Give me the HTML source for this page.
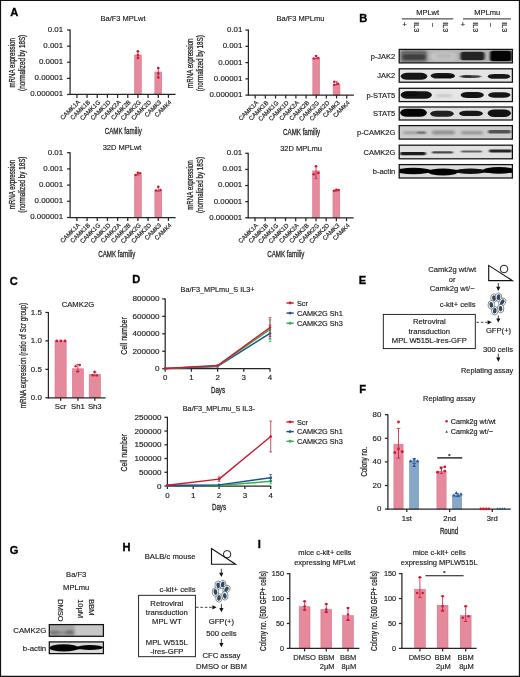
<!DOCTYPE html>
<html lang="en"><head><meta charset="utf-8"><title>Figure</title>
<style>html,body{margin:0;padding:0;background:#fff}svg{display:block}text{font-family:'Liberation Sans', Arial, Helvetica, sans-serif;fill:#222;stroke:#222;stroke-width:0.16px}</style>
</head><body>
<svg width="520" height="677" viewBox="0 0 520 677">
<defs>
<filter id="b1" x="-20%" y="-50%" width="140%" height="200%"><feGaussianBlur stdDeviation="1.1 0.7"/></filter>
<filter id="b2" x="-20%" y="-50%" width="140%" height="200%"><feGaussianBlur stdDeviation="1.8 1.3"/></filter>
<filter id="b0" x="-20%" y="-50%" width="140%" height="200%"><feGaussianBlur stdDeviation="0.7 0.45"/></filter>
</defs>
<rect x="0" y="0" width="520" height="677" fill="#fff"/>
<rect x="134.52" y="55" width="6.8" height="39.48" fill="#e48a9c" stroke="#dc7389" stroke-width="0.6"/>
<line x1="137.92" y1="51.3" x2="137.92" y2="57.9" stroke="#d01832" stroke-width="0.8"/>
<line x1="136.62" y1="51.3" x2="139.22" y2="51.3" stroke="#d01832" stroke-width="0.8"/>
<line x1="136.62" y1="57.9" x2="139.22" y2="57.9" stroke="#d01832" stroke-width="0.8"/>
<circle cx="137.92" cy="51.3" r="1.25" fill="#d01832"/>
<circle cx="137.92" cy="55" r="1.25" fill="#d01832"/>
<circle cx="137.92" cy="57.9" r="1.25" fill="#d01832"/>
<rect x="154.86" y="72" width="6.8" height="22.48" fill="#e48a9c" stroke="#dc7389" stroke-width="0.6"/>
<line x1="158.26" y1="68" x2="158.26" y2="77.5" stroke="#d01832" stroke-width="0.8"/>
<line x1="156.96" y1="68" x2="159.56" y2="68" stroke="#d01832" stroke-width="0.8"/>
<line x1="156.96" y1="77.5" x2="159.56" y2="77.5" stroke="#d01832" stroke-width="0.8"/>
<circle cx="158.26" cy="68" r="1.25" fill="#d01832"/>
<circle cx="158.26" cy="73.4" r="1.25" fill="#d01832"/>
<circle cx="158.26" cy="77.5" r="1.25" fill="#d01832"/>
<line x1="70.1" y1="29.5" x2="70.1" y2="94.98" stroke="#262626" stroke-width="1.25"/>
<line x1="69.6" y1="94.48" x2="175.6" y2="94.48" stroke="#262626" stroke-width="1.25"/>
<line x1="67.1" y1="30" x2="70.1" y2="30" stroke="#262626" stroke-width="1.25"/>
<text transform="translate(63.1 31.94)" font-size="7.9" text-anchor="end">0.01</text>
<line x1="67.1" y1="46.12" x2="70.1" y2="46.12" stroke="#262626" stroke-width="1.25"/>
<text transform="translate(63.1 48.06)" font-size="7.9" text-anchor="end">0.001</text>
<line x1="67.1" y1="62.24" x2="70.1" y2="62.24" stroke="#262626" stroke-width="1.25"/>
<text transform="translate(63.1 64.18)" font-size="7.9" text-anchor="end">0.0001</text>
<line x1="67.1" y1="78.36" x2="70.1" y2="78.36" stroke="#262626" stroke-width="1.25"/>
<text transform="translate(63.1 80.3)" font-size="7.9" text-anchor="end">0.00001</text>
<line x1="67.1" y1="94.48" x2="70.1" y2="94.48" stroke="#262626" stroke-width="1.25"/>
<text transform="translate(63.1 96.42)" font-size="7.9" text-anchor="end">0.000001</text>
<line x1="76.9" y1="94.48" x2="76.9" y2="97.88" stroke="#262626" stroke-width="1.25"/>
<text transform="translate(80.4 102.58) rotate(-45)" font-size="6.1" text-anchor="end">CAMK1A</text>
<line x1="87.07" y1="94.48" x2="87.07" y2="97.88" stroke="#262626" stroke-width="1.25"/>
<text transform="translate(90.57 102.58) rotate(-45)" font-size="6.1" text-anchor="end">CAMK1B</text>
<line x1="97.24" y1="94.48" x2="97.24" y2="97.88" stroke="#262626" stroke-width="1.25"/>
<text transform="translate(100.74 102.58) rotate(-45)" font-size="6.1" text-anchor="end">CAMK1G</text>
<line x1="107.41" y1="94.48" x2="107.41" y2="97.88" stroke="#262626" stroke-width="1.25"/>
<text transform="translate(110.91 102.58) rotate(-45)" font-size="6.1" text-anchor="end">CAMK1D</text>
<line x1="117.58" y1="94.48" x2="117.58" y2="97.88" stroke="#262626" stroke-width="1.25"/>
<text transform="translate(121.08 102.58) rotate(-45)" font-size="6.1" text-anchor="end">CAMK2A</text>
<line x1="127.75" y1="94.48" x2="127.75" y2="97.88" stroke="#262626" stroke-width="1.25"/>
<text transform="translate(131.25 102.58) rotate(-45)" font-size="6.1" text-anchor="end">CAMK2B</text>
<line x1="137.92" y1="94.48" x2="137.92" y2="97.88" stroke="#262626" stroke-width="1.25"/>
<text transform="translate(141.42 102.58) rotate(-45)" font-size="6.1" text-anchor="end">CAMK2G</text>
<line x1="148.09" y1="94.48" x2="148.09" y2="97.88" stroke="#262626" stroke-width="1.25"/>
<text transform="translate(151.59 102.58) rotate(-45)" font-size="6.1" text-anchor="end">CAMK2D</text>
<line x1="158.26" y1="94.48" x2="158.26" y2="97.88" stroke="#262626" stroke-width="1.25"/>
<text transform="translate(161.76 102.58) rotate(-45)" font-size="6.1" text-anchor="end">CAMK3</text>
<line x1="168.43" y1="94.48" x2="168.43" y2="97.88" stroke="#262626" stroke-width="1.25"/>
<text transform="translate(171.93 102.58) rotate(-45)" font-size="6.1" text-anchor="end">CAMK4</text>
<text transform="translate(123 21.2)" font-size="7.5" text-anchor="middle">Ba/F3 MPLwt</text>
<text transform="translate(123.3 134.18) scale(0.72 1)" font-size="8.6" text-anchor="middle" style="stroke-width:0.26px">CAMK familiy</text>
<text transform="translate(14.8 62.84) rotate(-90) scale(0.72 1)" font-size="8.6" text-anchor="middle" style="stroke-width:0.26px">mRNA expression</text>
<text transform="translate(24.8 62.84) rotate(-90) scale(0.73 1)" font-size="8.6" text-anchor="middle" style="stroke-width:0.26px">(normalized by 18S)</text>
<rect x="312.82" y="58.4" width="6.8" height="36.7" fill="#e48a9c" stroke="#dc7389" stroke-width="0.6"/>
<line x1="316.22" y1="55.9" x2="316.22" y2="58.6" stroke="#d01832" stroke-width="0.8"/>
<line x1="314.92" y1="55.9" x2="317.52" y2="55.9" stroke="#d01832" stroke-width="0.8"/>
<line x1="314.92" y1="58.6" x2="317.52" y2="58.6" stroke="#d01832" stroke-width="0.8"/>
<circle cx="316.02" cy="55.9" r="1.25" fill="#d01832"/>
<circle cx="313.72" cy="58.5" r="1.25" fill="#d01832"/>
<circle cx="318.32" cy="57.9" r="1.25" fill="#d01832"/>
<rect x="333.16" y="84.3" width="6.8" height="10.8" fill="#e48a9c" stroke="#dc7389" stroke-width="0.6"/>
<line x1="336.56" y1="81.8" x2="336.56" y2="84.8" stroke="#d01832" stroke-width="0.8"/>
<line x1="335.26" y1="81.8" x2="337.86" y2="81.8" stroke="#d01832" stroke-width="0.8"/>
<line x1="335.26" y1="84.8" x2="337.86" y2="84.8" stroke="#d01832" stroke-width="0.8"/>
<circle cx="334.26" cy="81.8" r="1.25" fill="#d01832"/>
<circle cx="338.06" cy="83.8" r="1.25" fill="#d01832"/>
<circle cx="334.26" cy="84.8" r="1.25" fill="#d01832"/>
<line x1="248.4" y1="29.6" x2="248.4" y2="95.6" stroke="#262626" stroke-width="1.25"/>
<line x1="247.9" y1="95.1" x2="353.9" y2="95.1" stroke="#262626" stroke-width="1.25"/>
<line x1="245.4" y1="30.1" x2="248.4" y2="30.1" stroke="#262626" stroke-width="1.25"/>
<text transform="translate(242.4 32.04)" font-size="7.9" text-anchor="end">0.01</text>
<line x1="245.4" y1="46.35" x2="248.4" y2="46.35" stroke="#262626" stroke-width="1.25"/>
<text transform="translate(242.4 48.29)" font-size="7.9" text-anchor="end">0.001</text>
<line x1="245.4" y1="62.6" x2="248.4" y2="62.6" stroke="#262626" stroke-width="1.25"/>
<text transform="translate(242.4 64.54)" font-size="7.9" text-anchor="end">0.0001</text>
<line x1="245.4" y1="78.85" x2="248.4" y2="78.85" stroke="#262626" stroke-width="1.25"/>
<text transform="translate(242.4 80.79)" font-size="7.9" text-anchor="end">0.00001</text>
<line x1="245.4" y1="95.1" x2="248.4" y2="95.1" stroke="#262626" stroke-width="1.25"/>
<text transform="translate(242.4 97.04)" font-size="7.9" text-anchor="end">0.000001</text>
<line x1="255.2" y1="95.1" x2="255.2" y2="98.5" stroke="#262626" stroke-width="1.25"/>
<text transform="translate(258.7 103.2) rotate(-45)" font-size="6.1" text-anchor="end">CAMK1A</text>
<line x1="265.37" y1="95.1" x2="265.37" y2="98.5" stroke="#262626" stroke-width="1.25"/>
<text transform="translate(268.87 103.2) rotate(-45)" font-size="6.1" text-anchor="end">CAMK1B</text>
<line x1="275.54" y1="95.1" x2="275.54" y2="98.5" stroke="#262626" stroke-width="1.25"/>
<text transform="translate(279.04 103.2) rotate(-45)" font-size="6.1" text-anchor="end">CAMK1G</text>
<line x1="285.71" y1="95.1" x2="285.71" y2="98.5" stroke="#262626" stroke-width="1.25"/>
<text transform="translate(289.21 103.2) rotate(-45)" font-size="6.1" text-anchor="end">CAMK1D</text>
<line x1="295.88" y1="95.1" x2="295.88" y2="98.5" stroke="#262626" stroke-width="1.25"/>
<text transform="translate(299.38 103.2) rotate(-45)" font-size="6.1" text-anchor="end">CAMK2A</text>
<line x1="306.05" y1="95.1" x2="306.05" y2="98.5" stroke="#262626" stroke-width="1.25"/>
<text transform="translate(309.55 103.2) rotate(-45)" font-size="6.1" text-anchor="end">CAMK2B</text>
<line x1="316.22" y1="95.1" x2="316.22" y2="98.5" stroke="#262626" stroke-width="1.25"/>
<text transform="translate(319.72 103.2) rotate(-45)" font-size="6.1" text-anchor="end">CAMK2G</text>
<line x1="326.39" y1="95.1" x2="326.39" y2="98.5" stroke="#262626" stroke-width="1.25"/>
<text transform="translate(329.89 103.2) rotate(-45)" font-size="6.1" text-anchor="end">CAMK2D</text>
<line x1="336.56" y1="95.1" x2="336.56" y2="98.5" stroke="#262626" stroke-width="1.25"/>
<text transform="translate(340.06 103.2) rotate(-45)" font-size="6.1" text-anchor="end">CAMK3</text>
<line x1="346.73" y1="95.1" x2="346.73" y2="98.5" stroke="#262626" stroke-width="1.25"/>
<text transform="translate(350.23 103.2) rotate(-45)" font-size="6.1" text-anchor="end">CAMK4</text>
<text transform="translate(300.5 21.3)" font-size="7.5" text-anchor="middle">Ba/F3 MPLmu</text>
<text transform="translate(301.6 134.8) scale(0.72 1)" font-size="8.6" text-anchor="middle" style="stroke-width:0.26px">CAMK familiy</text>
<text transform="translate(193.1 63.2) rotate(-90) scale(0.72 1)" font-size="8.6" text-anchor="middle" style="stroke-width:0.26px">mRNA expression</text>
<text transform="translate(203.1 63.2) rotate(-90) scale(0.73 1)" font-size="8.6" text-anchor="middle" style="stroke-width:0.26px">(normalized by 18S)</text>
<rect x="134.52" y="174.7" width="6.8" height="42.8" fill="#e48a9c" stroke="#dc7389" stroke-width="0.6"/>
<line x1="137.92" y1="172.8" x2="137.92" y2="175" stroke="#d01832" stroke-width="0.8"/>
<line x1="136.62" y1="172.8" x2="139.22" y2="172.8" stroke="#d01832" stroke-width="0.8"/>
<line x1="136.62" y1="175" x2="139.22" y2="175" stroke="#d01832" stroke-width="0.8"/>
<circle cx="135.62" cy="175" r="1.25" fill="#d01832"/>
<circle cx="137.92" cy="172.8" r="1.25" fill="#d01832"/>
<circle cx="140.22" cy="173.3" r="1.25" fill="#d01832"/>
<rect x="154.86" y="190.5" width="6.8" height="27" fill="#e48a9c" stroke="#dc7389" stroke-width="0.6"/>
<line x1="158.26" y1="186.7" x2="158.26" y2="191.2" stroke="#d01832" stroke-width="0.8"/>
<line x1="156.96" y1="186.7" x2="159.56" y2="186.7" stroke="#d01832" stroke-width="0.8"/>
<line x1="156.96" y1="191.2" x2="159.56" y2="191.2" stroke="#d01832" stroke-width="0.8"/>
<circle cx="158.26" cy="186.7" r="1.25" fill="#d01832"/>
<circle cx="155.96" cy="190.4" r="1.25" fill="#d01832"/>
<circle cx="160.46" cy="190.1" r="1.25" fill="#d01832"/>
<line x1="70.1" y1="152.2" x2="70.1" y2="218" stroke="#262626" stroke-width="1.25"/>
<line x1="69.6" y1="217.5" x2="175.6" y2="217.5" stroke="#262626" stroke-width="1.25"/>
<line x1="67.1" y1="152.7" x2="70.1" y2="152.7" stroke="#262626" stroke-width="1.25"/>
<text transform="translate(63.1 154.64)" font-size="7.9" text-anchor="end">0.01</text>
<line x1="67.1" y1="168.9" x2="70.1" y2="168.9" stroke="#262626" stroke-width="1.25"/>
<text transform="translate(63.1 170.84)" font-size="7.9" text-anchor="end">0.001</text>
<line x1="67.1" y1="185.1" x2="70.1" y2="185.1" stroke="#262626" stroke-width="1.25"/>
<text transform="translate(63.1 187.04)" font-size="7.9" text-anchor="end">0.0001</text>
<line x1="67.1" y1="201.3" x2="70.1" y2="201.3" stroke="#262626" stroke-width="1.25"/>
<text transform="translate(63.1 203.24)" font-size="7.9" text-anchor="end">0.00001</text>
<line x1="67.1" y1="217.5" x2="70.1" y2="217.5" stroke="#262626" stroke-width="1.25"/>
<text transform="translate(63.1 219.44)" font-size="7.9" text-anchor="end">0.000001</text>
<line x1="76.9" y1="217.5" x2="76.9" y2="220.9" stroke="#262626" stroke-width="1.25"/>
<text transform="translate(80.4 225.6) rotate(-45)" font-size="6.1" text-anchor="end">CAMK1A</text>
<line x1="87.07" y1="217.5" x2="87.07" y2="220.9" stroke="#262626" stroke-width="1.25"/>
<text transform="translate(90.57 225.6) rotate(-45)" font-size="6.1" text-anchor="end">CAMK1B</text>
<line x1="97.24" y1="217.5" x2="97.24" y2="220.9" stroke="#262626" stroke-width="1.25"/>
<text transform="translate(100.74 225.6) rotate(-45)" font-size="6.1" text-anchor="end">CAMK1G</text>
<line x1="107.41" y1="217.5" x2="107.41" y2="220.9" stroke="#262626" stroke-width="1.25"/>
<text transform="translate(110.91 225.6) rotate(-45)" font-size="6.1" text-anchor="end">CAMK1D</text>
<line x1="117.58" y1="217.5" x2="117.58" y2="220.9" stroke="#262626" stroke-width="1.25"/>
<text transform="translate(121.08 225.6) rotate(-45)" font-size="6.1" text-anchor="end">CAMK2A</text>
<line x1="127.75" y1="217.5" x2="127.75" y2="220.9" stroke="#262626" stroke-width="1.25"/>
<text transform="translate(131.25 225.6) rotate(-45)" font-size="6.1" text-anchor="end">CAMK2B</text>
<line x1="137.92" y1="217.5" x2="137.92" y2="220.9" stroke="#262626" stroke-width="1.25"/>
<text transform="translate(141.42 225.6) rotate(-45)" font-size="6.1" text-anchor="end">CAMK2G</text>
<line x1="148.09" y1="217.5" x2="148.09" y2="220.9" stroke="#262626" stroke-width="1.25"/>
<text transform="translate(151.59 225.6) rotate(-45)" font-size="6.1" text-anchor="end">CAMK2D</text>
<line x1="158.26" y1="217.5" x2="158.26" y2="220.9" stroke="#262626" stroke-width="1.25"/>
<text transform="translate(161.76 225.6) rotate(-45)" font-size="6.1" text-anchor="end">CAMK3</text>
<line x1="168.43" y1="217.5" x2="168.43" y2="220.9" stroke="#262626" stroke-width="1.25"/>
<text transform="translate(171.93 225.6) rotate(-45)" font-size="6.1" text-anchor="end">CAMK4</text>
<text transform="translate(122 149.9)" font-size="7.5" text-anchor="middle">32D MPLwt</text>
<text transform="translate(116.8 257.2) scale(0.72 1)" font-size="8.6" text-anchor="middle" style="stroke-width:0.26px">CAMK familiy</text>
<text transform="translate(14.8 184.6) rotate(-90) scale(0.72 1)" font-size="8.6" text-anchor="middle" style="stroke-width:0.26px">mRNA expression</text>
<text transform="translate(24.8 184.6) rotate(-90) scale(0.73 1)" font-size="8.6" text-anchor="middle" style="stroke-width:0.26px">(normalized by 18S)</text>
<rect x="312.62" y="170.9" width="6.8" height="46.88" fill="#e48a9c" stroke="#dc7389" stroke-width="0.6"/>
<line x1="316.02" y1="166.2" x2="316.02" y2="178.3" stroke="#d01832" stroke-width="0.8"/>
<line x1="314.72" y1="166.2" x2="317.32" y2="166.2" stroke="#d01832" stroke-width="0.8"/>
<line x1="314.72" y1="178.3" x2="317.32" y2="178.3" stroke="#d01832" stroke-width="0.8"/>
<circle cx="316.02" cy="166.2" r="1.25" fill="#d01832"/>
<circle cx="313.62" cy="174.2" r="1.25" fill="#d01832"/>
<circle cx="318.32" cy="173.1" r="1.25" fill="#d01832"/>
<rect x="332.96" y="190.5" width="6.8" height="27.28" fill="#e48a9c" stroke="#dc7389" stroke-width="0.6"/>
<line x1="336.36" y1="189.6" x2="336.36" y2="191" stroke="#d01832" stroke-width="0.8"/>
<line x1="335.06" y1="189.6" x2="337.66" y2="189.6" stroke="#d01832" stroke-width="0.8"/>
<line x1="335.06" y1="191" x2="337.66" y2="191" stroke="#d01832" stroke-width="0.8"/>
<circle cx="334.06" cy="190.7" r="1.25" fill="#d01832"/>
<circle cx="336.36" cy="189.8" r="1.25" fill="#d01832"/>
<circle cx="338.66" cy="190.1" r="1.25" fill="#d01832"/>
<line x1="248.2" y1="152.8" x2="248.2" y2="218.28" stroke="#262626" stroke-width="1.25"/>
<line x1="247.7" y1="217.78" x2="353.7" y2="217.78" stroke="#262626" stroke-width="1.25"/>
<line x1="245.2" y1="153.3" x2="248.2" y2="153.3" stroke="#262626" stroke-width="1.25"/>
<text transform="translate(242.2 155.24)" font-size="7.9" text-anchor="end">0.01</text>
<line x1="245.2" y1="169.42" x2="248.2" y2="169.42" stroke="#262626" stroke-width="1.25"/>
<text transform="translate(242.2 171.36)" font-size="7.9" text-anchor="end">0.001</text>
<line x1="245.2" y1="185.54" x2="248.2" y2="185.54" stroke="#262626" stroke-width="1.25"/>
<text transform="translate(242.2 187.48)" font-size="7.9" text-anchor="end">0.0001</text>
<line x1="245.2" y1="201.66" x2="248.2" y2="201.66" stroke="#262626" stroke-width="1.25"/>
<text transform="translate(242.2 203.6)" font-size="7.9" text-anchor="end">0.00001</text>
<line x1="245.2" y1="217.78" x2="248.2" y2="217.78" stroke="#262626" stroke-width="1.25"/>
<text transform="translate(242.2 219.72)" font-size="7.9" text-anchor="end">0.000001</text>
<line x1="255" y1="217.78" x2="255" y2="221.18" stroke="#262626" stroke-width="1.25"/>
<text transform="translate(258.5 225.88) rotate(-45)" font-size="6.1" text-anchor="end">CAMK1A</text>
<line x1="265.17" y1="217.78" x2="265.17" y2="221.18" stroke="#262626" stroke-width="1.25"/>
<text transform="translate(268.67 225.88) rotate(-45)" font-size="6.1" text-anchor="end">CAMK1B</text>
<line x1="275.34" y1="217.78" x2="275.34" y2="221.18" stroke="#262626" stroke-width="1.25"/>
<text transform="translate(278.84 225.88) rotate(-45)" font-size="6.1" text-anchor="end">CAMK1G</text>
<line x1="285.51" y1="217.78" x2="285.51" y2="221.18" stroke="#262626" stroke-width="1.25"/>
<text transform="translate(289.01 225.88) rotate(-45)" font-size="6.1" text-anchor="end">CAMK1D</text>
<line x1="295.68" y1="217.78" x2="295.68" y2="221.18" stroke="#262626" stroke-width="1.25"/>
<text transform="translate(299.18 225.88) rotate(-45)" font-size="6.1" text-anchor="end">CAMK2A</text>
<line x1="305.85" y1="217.78" x2="305.85" y2="221.18" stroke="#262626" stroke-width="1.25"/>
<text transform="translate(309.35 225.88) rotate(-45)" font-size="6.1" text-anchor="end">CAMK2B</text>
<line x1="316.02" y1="217.78" x2="316.02" y2="221.18" stroke="#262626" stroke-width="1.25"/>
<text transform="translate(319.52 225.88) rotate(-45)" font-size="6.1" text-anchor="end">CAMK2G</text>
<line x1="326.19" y1="217.78" x2="326.19" y2="221.18" stroke="#262626" stroke-width="1.25"/>
<text transform="translate(329.69 225.88) rotate(-45)" font-size="6.1" text-anchor="end">CAMK2D</text>
<line x1="336.36" y1="217.78" x2="336.36" y2="221.18" stroke="#262626" stroke-width="1.25"/>
<text transform="translate(339.86 225.88) rotate(-45)" font-size="6.1" text-anchor="end">CAMK3</text>
<line x1="346.53" y1="217.78" x2="346.53" y2="221.18" stroke="#262626" stroke-width="1.25"/>
<text transform="translate(350.03 225.88) rotate(-45)" font-size="6.1" text-anchor="end">CAMK4</text>
<text transform="translate(301 150.5)" font-size="7.5" text-anchor="middle">32D MPLmu</text>
<text transform="translate(285.8 257.48) scale(0.72 1)" font-size="8.6" text-anchor="middle" style="stroke-width:0.26px">CAMK familiy</text>
<text transform="translate(192.9 185.04) rotate(-90) scale(0.72 1)" font-size="8.6" text-anchor="middle" style="stroke-width:0.26px">mRNA expression</text>
<text transform="translate(202.9 185.04) rotate(-90) scale(0.73 1)" font-size="8.6" text-anchor="middle" style="stroke-width:0.26px">(normalized by 18S)</text>
<text transform="translate(10.3 16.2)" font-size="11.1" text-anchor="start" font-weight="bold" fill="#000" style="fill:#000;stroke:#000;stroke-width:0.32px">A</text>
<text transform="translate(359.2 22)" font-size="11.1" text-anchor="start" font-weight="bold" fill="#000" style="fill:#000;stroke:#000;stroke-width:0.32px">B</text>
<text transform="translate(427.6 15.2)" font-size="7.5" text-anchor="middle">MPLwt</text>
<text transform="translate(487.2 15.2)" font-size="7.5" text-anchor="middle">MPLmu</text>
<line x1="401.8" y1="18.9" x2="453.2" y2="18.9" stroke="#111" stroke-width="0.9"/>
<line x1="463" y1="18.9" x2="511" y2="18.9" stroke="#111" stroke-width="0.9"/>
<text transform="translate(404.6 27.28)" font-size="8" text-anchor="middle">+</text>
<text transform="translate(414.4 22.2) rotate(90)" font-size="7.2" text-anchor="start">IL3</text>
<text transform="translate(431 23) rotate(90)" font-size="6.6" text-anchor="start">–</text>
<text transform="translate(443.4 22.2) rotate(90)" font-size="7.2" text-anchor="start">IL3</text>
<text transform="translate(462.8 27.28)" font-size="8" text-anchor="middle">+</text>
<text transform="translate(472.6 22.2) rotate(90)" font-size="7.2" text-anchor="start">IL3</text>
<text transform="translate(489.2 23) rotate(90)" font-size="6.6" text-anchor="start">–</text>
<text transform="translate(501.6 22.2) rotate(90)" font-size="7.2" text-anchor="start">IL3</text>
<clipPath id="c1"><rect x="399.2" y="49.4" width="113.2" height="13.5"/></clipPath>
<rect x="399.2" y="49.4" width="113.2" height="13.5" fill="#c4c4c4"/>
<g clip-path="url(#c1)">
<rect x="399" y="50.3" width="114" height="12" rx="2.5" fill="#b0b0b0" opacity="0.8" filter="url(#b2)"/>
<rect x="400.5" y="50.45" width="26.5" height="11.5" rx="2.5" fill="#555" opacity="0.85" filter="url(#b2)"/>
<rect x="403" y="54.5" width="22" height="5" rx="2.5" fill="#2a2a2a" opacity="0.6" filter="url(#b1)"/>
<rect x="431" y="52.5" width="25" height="8" rx="2.5" fill="#cfcfcf" opacity="0.7" filter="url(#b2)"/>
<rect x="436" y="54.5" width="16" height="3" rx="1.5" fill="#999" opacity="0.4" filter="url(#b2)"/>
<rect x="460.5" y="51.7" width="24" height="8.6" rx="2.5" fill="#1c1c1c" opacity="0.95" filter="url(#b1)"/>
<rect x="490" y="50.8" width="21.8" height="10.4" rx="2.5" fill="#060606" opacity="0.98" filter="url(#b1)"/>
</g>
<rect x="399.2" y="49.4" width="113.2" height="13.5" fill="none" stroke="#111" stroke-width="1.25"/>
<text transform="translate(395.3 59.05)" font-size="7.5" text-anchor="end">p-JAK2</text>
<clipPath id="c2"><rect x="399.2" y="68.8" width="113.2" height="13.4"/></clipPath>
<rect x="399.2" y="68.8" width="113.2" height="13.4" fill="#e4e4e4"/>
<g clip-path="url(#c2)">
<path d="M400.5 76.2Q401.7 72.7 407.5 72.7L420.5 72.7Q426.3 72.7 427.5 76.2Q426.3 79.7 420.5 79.7L407.5 79.7Q401.7 79.7 400.5 76.2Z" fill="#0a0a0a" opacity="0.97" filter="url(#b0)"/>
<path d="M430.5 75.8Q431.7 73 437.5 73L448 73Q453.8 73 455 75.8Q453.8 78.6 448 78.6L437.5 78.6Q431.7 78.6 430.5 75.8Z" fill="#111" opacity="0.95" filter="url(#b0)"/>
<path d="M436 76.6Q437.2 75.1 441.7 75.1L449.3 75.1Q453.8 75.1 455 76.6Q453.8 78.1 449.3 78.1L441.7 78.1Q437.2 78.1 436 76.6Z" fill="#111" opacity="0.8" filter="url(#b0)"/>
<path d="M459.5 76.6Q460.7 75.2 466.1 75.2L474.9 75.2Q480.3 75.2 481.5 76.6Q480.3 78 474.9 78L466.1 78Q460.7 78 459.5 76.6Z" fill="#2a2a2a" opacity="0.85" filter="url(#b1)"/>
<path d="M462 76.2Q463.2 74.9 465 74.9L469 74.9Q470.8 74.9 472 76.2Q470.8 77.5 469 77.5L465 77.5Q463.2 77.5 462 76.2Z" fill="#222" opacity="0.6" filter="url(#b0)"/>
<path d="M487.5 76.4Q488.7 74.1 494.4 74.1L503.6 74.1Q509.3 74.1 510.5 76.4Q509.3 78.7 503.6 78.7L494.4 78.7Q488.7 78.7 487.5 76.4Z" fill="#111" opacity="0.95" filter="url(#b0)"/>
</g>
<rect x="399.2" y="68.8" width="113.2" height="13.4" fill="none" stroke="#111" stroke-width="1.25"/>
<text transform="translate(395.3 78.4)" font-size="7.5" text-anchor="end">JAK2</text>
<clipPath id="c3"><rect x="399.2" y="88.3" width="113.2" height="13.3"/></clipPath>
<rect x="399.2" y="88.3" width="113.2" height="13.3" fill="#e6e6e6"/>
<g clip-path="url(#c3)">
<path d="M400.5 95Q401.7 91.3 407.5 91.3L425 91.3Q430.8 91.3 432 95Q430.8 98.7 425 98.7L407.5 98.7Q401.7 98.7 400.5 95Z" fill="#0a0a0a" opacity="0.97" filter="url(#b0)"/>
<path d="M402 93.6Q403.2 91.6 407.4 91.6L414.6 91.6Q418.8 91.6 420 93.6Q418.8 95.6 414.6 95.6L407.4 95.6Q403.2 95.6 402 93.6Z" fill="#0a0a0a" opacity="0.9" filter="url(#b0)"/>
<rect x="436" y="94.5" width="16" height="2.6" rx="1.3" fill="#999" opacity="0.45" filter="url(#b2)"/>
<path d="M460.5 95Q461.7 92 467.5 92L477 92Q482.8 92 484 95Q482.8 98 477 98L467.5 98Q461.7 98 460.5 95Z" fill="#0d0d0d" opacity="0.96" filter="url(#b0)"/>
<path d="M488 95Q489.2 92.3 494.75 92.3L503.75 92.3Q509.3 92.3 510.5 95Q509.3 97.7 503.75 97.7L494.75 97.7Q489.2 97.7 488 95Z" fill="#0d0d0d" opacity="0.96" filter="url(#b0)"/>
</g>
<rect x="399.2" y="88.3" width="113.2" height="13.3" fill="none" stroke="#111" stroke-width="1.25"/>
<text transform="translate(395.3 97.85)" font-size="7.5" text-anchor="end">p-STAT5</text>
<clipPath id="c4"><rect x="399.2" y="107" width="113.2" height="13"/></clipPath>
<rect x="399.2" y="107" width="113.2" height="13" fill="#dedede"/>
<g clip-path="url(#c4)">
<path d="M400 112.8Q401.2 108.8 407 108.8L420 108.8Q425.8 108.8 427 112.8Q425.8 116.8 420 116.8L407 116.8Q401.2 116.8 400 112.8Z" fill="#050505" opacity="0.98" filter="url(#b0)"/>
<path d="M430 113.8Q431.2 110.8 437 110.8L447 110.8Q452.8 110.8 454 113.8Q452.8 116.8 447 116.8L437 116.8Q431.2 116.8 430 113.8Z" fill="#141414" opacity="0.95" filter="url(#b0)"/>
<path d="M459 113.4Q460.2 110.7 466 110.7L476 110.7Q481.8 110.7 483 113.4Q481.8 116.1 476 116.1L466 116.1Q460.2 116.1 459 113.4Z" fill="#111" opacity="0.95" filter="url(#b0)"/>
<path d="M487.5 113.2Q488.7 109.5 494.5 109.5L504 109.5Q509.8 109.5 511 113.2Q509.8 116.9 504 116.9L494.5 116.9Q488.7 116.9 487.5 113.2Z" fill="#080808" opacity="0.97" filter="url(#b0)"/>
</g>
<rect x="399.2" y="107" width="113.2" height="13" fill="none" stroke="#111" stroke-width="1.25"/>
<text transform="translate(395.3 116.4)" font-size="7.5" text-anchor="end">STAT5</text>
<clipPath id="c5"><rect x="399.2" y="125.6" width="113.2" height="13.5"/></clipPath>
<rect x="399.2" y="125.6" width="113.2" height="13.5" fill="#d3d3d3"/>
<g clip-path="url(#c5)">
<rect x="399" y="126" width="114" height="12" rx="2.5" fill="#cacaca" opacity="0.7" filter="url(#b2)"/>
<rect x="403" y="131.5" width="23" height="2.6" rx="1.3" fill="#666" opacity="0.5" filter="url(#b2)"/>
<rect x="417" y="131.4" width="9" height="2.4" rx="1.2" fill="#444" opacity="0.5" filter="url(#b1)"/>
<rect x="432" y="130.6" width="23" height="4" rx="2" fill="#555" opacity="0.5" filter="url(#b2)"/>
<rect x="461" y="131.3" width="22" height="3" rx="1.5" fill="#555" opacity="0.5" filter="url(#b2)"/>
<rect x="488" y="130.1" width="23" height="3.4" rx="1.7" fill="#2a2a2a" opacity="0.75" filter="url(#b1)"/>
</g>
<rect x="399.2" y="125.6" width="113.2" height="13.5" fill="none" stroke="#111" stroke-width="1.25"/>
<text transform="translate(395.3 135.25)" font-size="7.5" text-anchor="end">p-CAMK2G</text>
<clipPath id="c6"><rect x="399.2" y="145.2" width="113.2" height="13.6"/></clipPath>
<rect x="399.2" y="145.2" width="113.2" height="13.6" fill="#e0e0e0"/>
<g clip-path="url(#c6)">
<rect x="400" y="151.9" width="26" height="3.4" rx="1.7" fill="#111" opacity="0.92" filter="url(#b1)"/>
<rect x="432" y="151.2" width="21" height="2.4" rx="1.2" fill="#333" opacity="0.85" filter="url(#b1)"/>
<rect x="461" y="150.6" width="21" height="2" rx="1" fill="#444" opacity="0.8" filter="url(#b1)"/>
<rect x="489" y="149.6" width="23" height="2.8" rx="1.4" fill="#151515" opacity="0.92" filter="url(#b1)"/>
</g>
<rect x="399.2" y="145.2" width="113.2" height="13.6" fill="none" stroke="#111" stroke-width="1.25"/>
<text transform="translate(395.3 154.9)" font-size="7.5" text-anchor="end">CAMK2G</text>
<clipPath id="c7"><rect x="399.2" y="164.6" width="113.2" height="13.4"/></clipPath>
<rect x="399.2" y="164.6" width="113.2" height="13.4" fill="#dcdcdc"/>
<g clip-path="url(#c7)">
<rect x="399" y="169.7" width="114" height="3" rx="1.5" fill="#111" opacity="0.9" filter="url(#b0)"/>
<ellipse cx="413.5" cy="171" rx="17.5" ry="3.3" fill="#060606" opacity="0.98" filter="url(#b0)"/>
<ellipse cx="443" cy="172" rx="15" ry="3.4" fill="#060606" opacity="0.98" filter="url(#b0)"/>
<ellipse cx="470.5" cy="171.2" rx="14.5" ry="2.8" fill="#090909" opacity="0.98" filter="url(#b0)"/>
<ellipse cx="499" cy="170.4" rx="16" ry="3.4" fill="#060606" opacity="0.98" filter="url(#b0)"/>
</g>
<rect x="399.2" y="164.6" width="113.2" height="13.4" fill="none" stroke="#111" stroke-width="1.25"/>
<text transform="translate(395.3 174.2)" font-size="7.5" text-anchor="end">b-actin</text>
<text transform="translate(9.8 285)" font-size="11.1" text-anchor="start" font-weight="bold" fill="#000" style="fill:#000;stroke:#000;stroke-width:0.32px">C</text>
<rect x="55" y="340.9" width="11.2" height="56.9" fill="#e48a9c" stroke="#dc7389" stroke-width="0.6"/>
<rect x="72.3" y="368.78" width="11.2" height="29.02" fill="#e48a9c" stroke="#dc7389" stroke-width="0.6"/>
<rect x="89.2" y="374.47" width="11.2" height="23.33" fill="#e48a9c" stroke="#dc7389" stroke-width="0.6"/>
<circle cx="56.8" cy="340.9" r="1.35" fill="#d01832"/>
<circle cx="60.9" cy="340.9" r="1.35" fill="#d01832"/>
<circle cx="65" cy="340.9" r="1.35" fill="#d01832"/>
<line x1="77.9" y1="364.6" x2="77.9" y2="371.6" stroke="#d01832" stroke-width="0.8"/>
<line x1="76.3" y1="364.6" x2="79.5" y2="364.6" stroke="#d01832" stroke-width="0.8"/>
<line x1="76.3" y1="371.6" x2="79.5" y2="371.6" stroke="#d01832" stroke-width="0.8"/>
<circle cx="75.6" cy="366.2" r="1.2" fill="#d01832"/>
<circle cx="79.8" cy="365" r="1.2" fill="#d01832"/>
<circle cx="77.6" cy="371.4" r="1.2" fill="#d01832"/>
<line x1="94.8" y1="372.2" x2="94.8" y2="375.8" stroke="#d01832" stroke-width="0.8"/>
<line x1="93.2" y1="372.2" x2="96.4" y2="372.2" stroke="#d01832" stroke-width="0.8"/>
<line x1="93.2" y1="375.8" x2="96.4" y2="375.8" stroke="#d01832" stroke-width="0.8"/>
<circle cx="94.6" cy="371.8" r="1.2" fill="#d01832"/>
<circle cx="92.6" cy="375.2" r="1.2" fill="#d01832"/>
<circle cx="97" cy="375.4" r="1.2" fill="#d01832"/>
<line x1="48.4" y1="311.95" x2="48.4" y2="398.3" stroke="#262626" stroke-width="1.25"/>
<line x1="47.9" y1="397.8" x2="105.6" y2="397.8" stroke="#262626" stroke-width="1.25"/>
<line x1="45.4" y1="397.8" x2="48.4" y2="397.8" stroke="#262626" stroke-width="1.25"/>
<text transform="translate(41.8 400.14)" font-size="7.9" text-anchor="end">0.0</text>
<line x1="45.4" y1="369.35" x2="48.4" y2="369.35" stroke="#262626" stroke-width="1.25"/>
<text transform="translate(41.8 371.69)" font-size="7.9" text-anchor="end">0.5</text>
<line x1="45.4" y1="340.9" x2="48.4" y2="340.9" stroke="#262626" stroke-width="1.25"/>
<text transform="translate(41.8 343.24)" font-size="7.9" text-anchor="end">1.0</text>
<line x1="45.4" y1="312.45" x2="48.4" y2="312.45" stroke="#262626" stroke-width="1.25"/>
<text transform="translate(41.8 314.79)" font-size="7.9" text-anchor="end">1.5</text>
<line x1="60.6" y1="397.8" x2="60.6" y2="400.8" stroke="#262626" stroke-width="1.25"/>
<text transform="translate(60.6 409.17)" font-size="7.7" text-anchor="middle">Scr</text>
<line x1="77.9" y1="397.8" x2="77.9" y2="400.8" stroke="#262626" stroke-width="1.25"/>
<text transform="translate(77.9 409.17)" font-size="7.7" text-anchor="middle">Sh1</text>
<line x1="94.8" y1="397.8" x2="94.8" y2="400.8" stroke="#262626" stroke-width="1.25"/>
<text transform="translate(94.8 409.17)" font-size="7.7" text-anchor="middle">Sh3</text>
<text transform="translate(77.9 306.57)" font-size="7.7" text-anchor="middle">CAMK2G</text>
<text transform="translate(26.4 355.6) rotate(-90) scale(0.74 1)" font-size="8.6" text-anchor="middle" style="stroke-width:0.26px">mRNA expression (ratio of Scr group)</text>
<text transform="translate(132.3 283.4)" font-size="11.1" text-anchor="start" font-weight="bold" fill="#000" style="fill:#000;stroke:#000;stroke-width:0.32px">D</text>
<line x1="165.2" y1="298.4" x2="165.2" y2="369.2" stroke="#262626" stroke-width="1.25"/>
<line x1="164.7" y1="368.7" x2="270.4" y2="368.7" stroke="#262626" stroke-width="1.25"/>
<line x1="162.2" y1="368.7" x2="165.2" y2="368.7" stroke="#262626" stroke-width="1.25"/>
<text transform="translate(159.4 371.22)" font-size="8.1" text-anchor="end">0</text>
<line x1="162.2" y1="351.25" x2="165.2" y2="351.25" stroke="#262626" stroke-width="1.25"/>
<text transform="translate(159.4 353.77)" font-size="8.1" text-anchor="end">200000</text>
<line x1="162.2" y1="333.8" x2="165.2" y2="333.8" stroke="#262626" stroke-width="1.25"/>
<text transform="translate(159.4 336.32)" font-size="8.1" text-anchor="end">400000</text>
<line x1="162.2" y1="316.35" x2="165.2" y2="316.35" stroke="#262626" stroke-width="1.25"/>
<text transform="translate(159.4 318.87)" font-size="8.1" text-anchor="end">600000</text>
<line x1="162.2" y1="298.9" x2="165.2" y2="298.9" stroke="#262626" stroke-width="1.25"/>
<text transform="translate(159.4 301.42)" font-size="8.1" text-anchor="end">800000</text>
<line x1="165.2" y1="368.7" x2="165.2" y2="371.7" stroke="#262626" stroke-width="1.25"/>
<text transform="translate(165.2 380.34)" font-size="7.9" text-anchor="middle">0</text>
<line x1="191.4" y1="368.7" x2="191.4" y2="371.7" stroke="#262626" stroke-width="1.25"/>
<text transform="translate(191.4 380.34)" font-size="7.9" text-anchor="middle">1</text>
<line x1="217.6" y1="368.7" x2="217.6" y2="371.7" stroke="#262626" stroke-width="1.25"/>
<text transform="translate(217.6 380.34)" font-size="7.9" text-anchor="middle">2</text>
<line x1="243.8" y1="368.7" x2="243.8" y2="371.7" stroke="#262626" stroke-width="1.25"/>
<text transform="translate(243.8 380.34)" font-size="7.9" text-anchor="middle">3</text>
<line x1="270" y1="368.7" x2="270" y2="371.7" stroke="#262626" stroke-width="1.25"/>
<text transform="translate(270 380.34)" font-size="7.9" text-anchor="middle">4</text>
<text transform="translate(217.6 291.53)" font-size="7.3" text-anchor="middle">Ba/F3_MPLmu_S IL3+</text>
<text transform="translate(218 392.9) scale(0.72 1)" font-size="8.6" text-anchor="middle" style="stroke-width:0.26px">Days</text>
<text transform="translate(127 336) rotate(-90) scale(0.76 1)" font-size="9.2" text-anchor="middle" style="stroke-width:0.26px">Cell number</text>
<line x1="270" y1="325.07" x2="270" y2="339.03" stroke="#1b5296" stroke-width="0.75"/>
<line x1="268.6" y1="325.07" x2="271.4" y2="325.07" stroke="#1b5296" stroke-width="0.75"/>
<line x1="268.6" y1="339.03" x2="271.4" y2="339.03" stroke="#1b5296" stroke-width="0.75"/>
<polyline fill="none" stroke="#1b5296" stroke-width="1.45" stroke-linejoin="round" points="165.2,368.53 217.6,366.43 270,333.36"/>
<circle cx="165.2" cy="368.53" r="1.3" fill="#1b5296"/>
<circle cx="217.6" cy="366.43" r="1.3" fill="#1b5296"/>
<circle cx="270" cy="333.36" r="1.3" fill="#1b5296"/>
<line x1="270" y1="319.84" x2="270" y2="341.65" stroke="#34b24a" stroke-width="0.75"/>
<line x1="268.6" y1="319.84" x2="271.4" y2="319.84" stroke="#34b24a" stroke-width="0.75"/>
<line x1="268.6" y1="341.65" x2="271.4" y2="341.65" stroke="#34b24a" stroke-width="0.75"/>
<polyline fill="none" stroke="#34b24a" stroke-width="1.45" stroke-linejoin="round" points="165.2,368.53 217.6,366.08 270,329.44"/>
<circle cx="165.2" cy="368.53" r="1.3" fill="#34b24a"/>
<circle cx="217.6" cy="366.08" r="1.3" fill="#34b24a"/>
<circle cx="270" cy="329.44" r="1.3" fill="#34b24a"/>
<line x1="270" y1="317.66" x2="270" y2="336.42" stroke="#d01832" stroke-width="0.75"/>
<line x1="268.6" y1="317.66" x2="271.4" y2="317.66" stroke="#d01832" stroke-width="0.75"/>
<line x1="268.6" y1="336.42" x2="271.4" y2="336.42" stroke="#d01832" stroke-width="0.75"/>
<polyline fill="none" stroke="#d01832" stroke-width="1.45" stroke-linejoin="round" points="165.2,368.53 217.6,365.56 270,327.52"/>
<circle cx="165.2" cy="368.53" r="1.3" fill="#d01832"/>
<circle cx="217.6" cy="365.56" r="1.3" fill="#d01832"/>
<circle cx="270" cy="327.52" r="1.3" fill="#d01832"/>
<line x1="167.4" y1="416.8" x2="167.4" y2="486.5" stroke="#262626" stroke-width="1.25"/>
<line x1="166.9" y1="486" x2="271.12" y2="486" stroke="#262626" stroke-width="1.25"/>
<line x1="164.4" y1="486" x2="167.4" y2="486" stroke="#262626" stroke-width="1.25"/>
<text transform="translate(161.6 488.52)" font-size="8.1" text-anchor="end">0</text>
<line x1="164.4" y1="472.26" x2="167.4" y2="472.26" stroke="#262626" stroke-width="1.25"/>
<text transform="translate(161.6 474.78)" font-size="8.1" text-anchor="end">50000</text>
<line x1="164.4" y1="458.52" x2="167.4" y2="458.52" stroke="#262626" stroke-width="1.25"/>
<text transform="translate(161.6 461.04)" font-size="8.1" text-anchor="end">100000</text>
<line x1="164.4" y1="444.78" x2="167.4" y2="444.78" stroke="#262626" stroke-width="1.25"/>
<text transform="translate(161.6 447.3)" font-size="8.1" text-anchor="end">150000</text>
<line x1="164.4" y1="431.04" x2="167.4" y2="431.04" stroke="#262626" stroke-width="1.25"/>
<text transform="translate(161.6 433.56)" font-size="8.1" text-anchor="end">200000</text>
<line x1="164.4" y1="417.3" x2="167.4" y2="417.3" stroke="#262626" stroke-width="1.25"/>
<text transform="translate(161.6 419.82)" font-size="8.1" text-anchor="end">250000</text>
<line x1="167.4" y1="486" x2="167.4" y2="489" stroke="#262626" stroke-width="1.25"/>
<text transform="translate(167.4 497.64)" font-size="7.9" text-anchor="middle">0</text>
<line x1="193.23" y1="486" x2="193.23" y2="489" stroke="#262626" stroke-width="1.25"/>
<text transform="translate(193.23 497.64)" font-size="7.9" text-anchor="middle">1</text>
<line x1="219.06" y1="486" x2="219.06" y2="489" stroke="#262626" stroke-width="1.25"/>
<text transform="translate(219.06 497.64)" font-size="7.9" text-anchor="middle">2</text>
<line x1="244.89" y1="486" x2="244.89" y2="489" stroke="#262626" stroke-width="1.25"/>
<text transform="translate(244.89 497.64)" font-size="7.9" text-anchor="middle">3</text>
<line x1="270.72" y1="486" x2="270.72" y2="489" stroke="#262626" stroke-width="1.25"/>
<text transform="translate(270.72 497.64)" font-size="7.9" text-anchor="middle">4</text>
<text transform="translate(218.8 410.83)" font-size="7.3" text-anchor="middle">Ba/F3_MPLmu_S IL3-</text>
<text transform="translate(219 510.3) scale(0.72 1)" font-size="8.6" text-anchor="middle" style="stroke-width:0.26px">Days</text>
<text transform="translate(127 452.8) rotate(-90) scale(0.76 1)" font-size="9.2" text-anchor="middle" style="stroke-width:0.26px">Cell number</text>
<line x1="270.72" y1="478.31" x2="270.72" y2="483.8" stroke="#34b24a" stroke-width="0.75"/>
<line x1="269.32" y1="478.31" x2="272.12" y2="478.31" stroke="#34b24a" stroke-width="0.75"/>
<line x1="269.32" y1="483.8" x2="272.12" y2="483.8" stroke="#34b24a" stroke-width="0.75"/>
<polyline fill="none" stroke="#34b24a" stroke-width="1.45" stroke-linejoin="round" points="167.4,485.45 219.06,485.59 270.72,481.33"/>
<circle cx="167.4" cy="485.45" r="1.3" fill="#34b24a"/>
<circle cx="219.06" cy="485.59" r="1.3" fill="#34b24a"/>
<circle cx="270.72" cy="481.33" r="1.3" fill="#34b24a"/>
<line x1="270.72" y1="474.46" x2="270.72" y2="481.05" stroke="#1b5296" stroke-width="0.75"/>
<line x1="269.32" y1="474.46" x2="272.12" y2="474.46" stroke="#1b5296" stroke-width="0.75"/>
<line x1="269.32" y1="481.05" x2="272.12" y2="481.05" stroke="#1b5296" stroke-width="0.75"/>
<polyline fill="none" stroke="#1b5296" stroke-width="1.45" stroke-linejoin="round" points="167.4,485.45 219.06,484.9 270.72,477.76"/>
<circle cx="167.4" cy="485.45" r="1.3" fill="#1b5296"/>
<circle cx="219.06" cy="484.9" r="1.3" fill="#1b5296"/>
<circle cx="270.72" cy="477.76" r="1.3" fill="#1b5296"/>
<line x1="219.06" y1="476.93" x2="219.06" y2="481.33" stroke="#d01832" stroke-width="0.75"/>
<line x1="217.66" y1="476.93" x2="220.46" y2="476.93" stroke="#d01832" stroke-width="0.75"/>
<line x1="217.66" y1="481.33" x2="220.46" y2="481.33" stroke="#d01832" stroke-width="0.75"/>
<line x1="270.72" y1="421.15" x2="270.72" y2="451.92" stroke="#d01832" stroke-width="0.75"/>
<line x1="269.32" y1="421.15" x2="272.12" y2="421.15" stroke="#d01832" stroke-width="0.75"/>
<line x1="269.32" y1="451.92" x2="272.12" y2="451.92" stroke="#d01832" stroke-width="0.75"/>
<polyline fill="none" stroke="#d01832" stroke-width="1.45" stroke-linejoin="round" points="167.4,485.18 219.06,479.13 270.72,436.54"/>
<circle cx="167.4" cy="485.18" r="1.3" fill="#d01832"/>
<circle cx="219.06" cy="479.13" r="1.3" fill="#d01832"/>
<circle cx="270.72" cy="436.54" r="1.3" fill="#d01832"/>
<line x1="286.4" y1="303" x2="293.8" y2="303" stroke="#d01832" stroke-width="1.4"/>
<circle cx="290.1" cy="303" r="1.45" fill="#d01832"/>
<text transform="translate(296.9 305.63)" font-size="7.3" text-anchor="start">Scr</text>
<line x1="286.4" y1="313.1" x2="293.8" y2="313.1" stroke="#1b5296" stroke-width="1.4"/>
<circle cx="290.1" cy="313.1" r="1.45" fill="#1b5296"/>
<text transform="translate(296.9 315.73)" font-size="7.3" text-anchor="start">CAMK2G Sh1</text>
<line x1="286.4" y1="323.2" x2="293.8" y2="323.2" stroke="#34b24a" stroke-width="1.4"/>
<circle cx="290.1" cy="323.2" r="1.45" fill="#34b24a"/>
<text transform="translate(296.9 325.83)" font-size="7.3" text-anchor="start">CAMK2G Sh3</text>
<line x1="286.4" y1="421.9" x2="293.8" y2="421.9" stroke="#d01832" stroke-width="1.4"/>
<circle cx="290.1" cy="421.9" r="1.45" fill="#d01832"/>
<text transform="translate(296.9 424.53)" font-size="7.3" text-anchor="start">Scr</text>
<line x1="286.4" y1="431.6" x2="293.8" y2="431.6" stroke="#1b5296" stroke-width="1.4"/>
<circle cx="290.1" cy="431.6" r="1.45" fill="#1b5296"/>
<text transform="translate(296.9 434.23)" font-size="7.3" text-anchor="start">CAMK2G Sh1</text>
<line x1="286.4" y1="441.3" x2="293.8" y2="441.3" stroke="#34b24a" stroke-width="1.4"/>
<circle cx="290.1" cy="441.3" r="1.45" fill="#34b24a"/>
<text transform="translate(296.9 443.93)" font-size="7.3" text-anchor="start">CAMK2G Sh3</text>
<text transform="translate(358.8 283.8)" font-size="11.1" text-anchor="start" font-weight="bold" fill="#000" style="fill:#000;stroke:#000;stroke-width:0.32px">E</text>
<text transform="translate(452.2 272.35)" font-size="7.65" text-anchor="middle">Camk2g wt/wt</text>
<text transform="translate(452.2 281.65)" font-size="7.65" text-anchor="middle">or</text>
<text transform="translate(452.2 290.75)" font-size="7.65" text-anchor="middle">Camk2g wt/−</text>
<text transform="translate(475.6 307.25)" font-size="7.65" text-anchor="end">c-kit+ cells</text>
<path d="M488.7 265.4L488.7 280.6L512.4 280.6Z" fill="none" stroke="#111" stroke-width="1.1" stroke-linejoin="miter"/>
<circle cx="504" cy="269" r="3.8" fill="none" stroke="#111" stroke-width="0.95"/>
<line x1="498.3" y1="283" x2="498.3" y2="287.3" stroke="#111" stroke-width="0.8"/>
<path d="M496.2 286.8L500.4 286.8L498.3 291Z" fill="#111"/>
<g transform="translate(494 298.1) rotate(-10)"><ellipse rx="3.2" ry="4.2" fill="#fff" stroke="#3a3a3a" stroke-width="0.55"/><ellipse rx="1.85" ry="2.9" fill="#2c4966"/></g>
<g transform="translate(498.5 297.2) rotate(6)"><ellipse rx="3.2" ry="4.2" fill="#fff" stroke="#3a3a3a" stroke-width="0.55"/><ellipse rx="1.85" ry="2.9" fill="#2c4966"/></g>
<g transform="translate(502.3 302) rotate(28)"><ellipse rx="3.2" ry="4.2" fill="#fff" stroke="#3a3a3a" stroke-width="0.55"/><ellipse rx="1.85" ry="2.9" fill="#2c4966"/></g>
<g transform="translate(500.6 308.6) rotate(-8)"><ellipse rx="3.2" ry="4.2" fill="#fff" stroke="#3a3a3a" stroke-width="0.55"/><ellipse rx="1.85" ry="2.9" fill="#2c4966"/></g>
<g transform="translate(494.8 310.7) rotate(8)"><ellipse rx="3.2" ry="4.2" fill="#fff" stroke="#3a3a3a" stroke-width="0.55"/><ellipse rx="1.85" ry="2.9" fill="#2c4966"/></g>
<g transform="translate(491.3 304.8) rotate(-6)"><ellipse rx="3.2" ry="4.2" fill="#fff" stroke="#3a3a3a" stroke-width="0.55"/><ellipse rx="1.85" ry="2.9" fill="#2c4966"/></g>
<line x1="498.3" y1="315.4" x2="498.3" y2="318.9" stroke="#111" stroke-width="0.8"/>
<path d="M496.2 318.4L500.4 318.4L498.3 322.6Z" fill="#111"/>
<rect x="383.3" y="314.4" width="92" height="34.2" fill="none" stroke="#111" stroke-width="0.9"/>
<text transform="translate(429.3 324.35)" font-size="7.65" text-anchor="middle">Retroviral</text>
<text transform="translate(429.3 333.75)" font-size="7.65" text-anchor="middle">transduction</text>
<text transform="translate(429.3 343.35)" font-size="7.65" text-anchor="middle">MPL W515L-ires-GFP</text>
<line x1="476.4" y1="322.3" x2="487.6" y2="322.3" stroke="#111" stroke-width="0.8" stroke-dasharray="2.6 1.8"/>
<path d="M487.6 320.2L487.6 324.4L491.8 322.3Z" fill="#111"/>
<text transform="translate(498.5 333.35)" font-size="7.65" text-anchor="middle">GFP(+)</text>
<text transform="translate(498 351.55)" font-size="7.65" text-anchor="middle">300 cells</text>
<line x1="498.3" y1="353.6" x2="498.3" y2="358.1" stroke="#111" stroke-width="0.8"/>
<path d="M496.2 357.6L500.4 357.6L498.3 361.8Z" fill="#111"/>
<text transform="translate(513.3 372.85)" font-size="7.35" text-anchor="end">Replating assay</text>
<text transform="translate(359.2 393.2)" font-size="11.1" text-anchor="start" font-weight="bold" fill="#000" style="fill:#000;stroke:#000;stroke-width:0.32px">F</text>
<text transform="translate(449.2 401.25)" font-size="7.35" text-anchor="middle">Replating assay</text>
<rect x="393.9" y="444.2" width="9.2" height="64.9" fill="#e48a9c" stroke="#dc7389" stroke-width="0.6"/>
<rect x="409.5" y="460.96" width="9.2" height="48.14" fill="#85a8c8" stroke="#6f96bb" stroke-width="0.6"/>
<rect x="436.9" y="471.34" width="9.2" height="37.76" fill="#e48a9c" stroke="#dc7389" stroke-width="0.6"/>
<rect x="452.5" y="495.18" width="9.2" height="13.92" fill="#85a8c8" stroke="#6f96bb" stroke-width="0.6"/>
<line x1="398.5" y1="428.39" x2="398.5" y2="458.12" stroke="#d01832" stroke-width="0.8"/>
<line x1="396.7" y1="428.39" x2="400.3" y2="428.39" stroke="#d01832" stroke-width="0.8"/>
<line x1="396.7" y1="458.12" x2="400.3" y2="458.12" stroke="#d01832" stroke-width="0.8"/>
<circle cx="398.5" cy="422.02" r="1.4" fill="#d01832"/>
<circle cx="398.5" cy="448.92" r="1.4" fill="#d01832"/>
<circle cx="394.8" cy="452.7" r="1.4" fill="#d01832"/>
<circle cx="402.2" cy="451.75" r="1.4" fill="#d01832"/>
<line x1="414.2" y1="458.6" x2="414.2" y2="463.55" stroke="#1d5799" stroke-width="0.8"/>
<line x1="412.4" y1="458.6" x2="416" y2="458.6" stroke="#1d5799" stroke-width="0.8"/>
<line x1="412.4" y1="463.55" x2="416" y2="463.55" stroke="#1d5799" stroke-width="0.8"/>
<path d="M410.7 459.26L412.4 462.32L409 462.32Z" fill="#1d5799"/>
<path d="M414.2 457.49L415.9 460.55L412.5 460.55Z" fill="#1d5799"/>
<path d="M417.5 459.26L419.2 462.32L415.8 462.32Z" fill="#1d5799"/>
<path d="M414.2 463.86L415.9 466.92L412.5 466.92Z" fill="#1d5799"/>
<line x1="441.5" y1="467.21" x2="441.5" y2="473.46" stroke="#d01832" stroke-width="0.8"/>
<line x1="439.7" y1="467.21" x2="443.3" y2="467.21" stroke="#d01832" stroke-width="0.8"/>
<line x1="439.7" y1="473.46" x2="443.3" y2="473.46" stroke="#d01832" stroke-width="0.8"/>
<circle cx="437.6" cy="472.28" r="1.45" fill="#d01832"/>
<circle cx="441.1" cy="468.04" r="1.45" fill="#d01832"/>
<circle cx="444.8" cy="466.86" r="1.45" fill="#d01832"/>
<circle cx="444.8" cy="471.1" r="1.45" fill="#d01832"/>
<line x1="457.1" y1="493.52" x2="457.1" y2="496.59" stroke="#1d5799" stroke-width="0.8"/>
<line x1="455.3" y1="493.52" x2="458.9" y2="493.52" stroke="#1d5799" stroke-width="0.8"/>
<line x1="455.3" y1="496.59" x2="458.9" y2="496.59" stroke="#1d5799" stroke-width="0.8"/>
<path d="M453.9 493.48L455.6 496.54L452.2 496.54Z" fill="#1d5799"/>
<path d="M456.3 491.12L458 494.18L454.6 494.18Z" fill="#1d5799"/>
<path d="M458.7 493.71L460.4 496.77L457 496.77Z" fill="#1d5799"/>
<path d="M461 492.3L462.7 495.36L459.3 495.36Z" fill="#1d5799"/>
<line x1="387.9" y1="414.2" x2="387.9" y2="509.6" stroke="#262626" stroke-width="1.25"/>
<line x1="387.4" y1="509.1" x2="510.8" y2="509.1" stroke="#262626" stroke-width="1.25"/>
<line x1="384.9" y1="509.1" x2="387.9" y2="509.1" stroke="#262626" stroke-width="1.25"/>
<text transform="translate(381.3 511.44)" font-size="7.9" text-anchor="end">0</text>
<line x1="384.9" y1="485.5" x2="387.9" y2="485.5" stroke="#262626" stroke-width="1.25"/>
<text transform="translate(381.3 487.84)" font-size="7.9" text-anchor="end">20</text>
<line x1="384.9" y1="461.9" x2="387.9" y2="461.9" stroke="#262626" stroke-width="1.25"/>
<text transform="translate(381.3 464.24)" font-size="7.9" text-anchor="end">40</text>
<line x1="384.9" y1="438.3" x2="387.9" y2="438.3" stroke="#262626" stroke-width="1.25"/>
<text transform="translate(381.3 440.64)" font-size="7.9" text-anchor="end">60</text>
<line x1="384.9" y1="414.7" x2="387.9" y2="414.7" stroke="#262626" stroke-width="1.25"/>
<text transform="translate(381.3 417.04)" font-size="7.9" text-anchor="end">80</text>
<line x1="406.8" y1="509.1" x2="406.8" y2="512.1" stroke="#262626" stroke-width="1.25"/>
<text transform="translate(406.8 520.77)" font-size="7.7" text-anchor="middle">1st</text>
<line x1="449.6" y1="509.1" x2="449.6" y2="512.1" stroke="#262626" stroke-width="1.25"/>
<text transform="translate(449.6 520.77)" font-size="7.7" text-anchor="middle">2nd</text>
<line x1="492.3" y1="509.1" x2="492.3" y2="512.1" stroke="#262626" stroke-width="1.25"/>
<text transform="translate(492.3 520.77)" font-size="7.7" text-anchor="middle">3rd</text>
<circle cx="480.8" cy="508.9" r="1.3" fill="#d01832"/>
<circle cx="483.5" cy="508.9" r="1.3" fill="#d01832"/>
<circle cx="486.2" cy="508.9" r="1.3" fill="#d01832"/>
<circle cx="488.9" cy="508.9" r="1.3" fill="#d01832"/>
<path d="M497.7 507.3L499.1 509.82L496.3 509.82Z" fill="#1d5799"/>
<path d="M500 507.3L501.4 509.82L498.6 509.82Z" fill="#1d5799"/>
<path d="M502.3 507.3L503.7 509.82L500.9 509.82Z" fill="#1d5799"/>
<path d="M504.5 507.3L505.9 509.82L503.1 509.82Z" fill="#1d5799"/>
<text transform="translate(449 533.5) scale(0.72 1)" font-size="8.6" text-anchor="middle" style="stroke-width:0.26px">Round</text>
<text transform="translate(366.6 461.8) rotate(-90) scale(0.72 1)" font-size="8.6" text-anchor="middle" style="stroke-width:0.26px">Colony no.</text>
<circle cx="446.6" cy="421.2" r="1.25" fill="#d01832"/>
<text transform="translate(450.7 423.79)" font-size="7.2" text-anchor="start">Camk2g wt/wt</text>
<path d="M446.6 430.35L447.95 432.78L445.25 432.78Z" fill="#1d5799"/>
<text transform="translate(450.7 434.19)" font-size="7.2" text-anchor="start">Camk2g wt/−</text>
<line x1="437.2" y1="457.9" x2="462.2" y2="457.9" stroke="#111" stroke-width="1.3"/>
<text transform="translate(449.4 457.6)" font-size="5.6" text-anchor="middle" font-weight="bold" fill="#000">*</text>
<text transform="translate(9.8 553.8)" font-size="11.1" text-anchor="start" font-weight="bold" fill="#000" style="fill:#000;stroke:#000;stroke-width:0.32px">G</text>
<text transform="translate(76.2 577.14)" font-size="7.6" text-anchor="middle">Ba/F3</text>
<text transform="translate(76.2 590.24)" font-size="7.6" text-anchor="middle">MPLmu</text>
<text transform="translate(58 599.2) rotate(90)" font-size="7.5" text-anchor="start">DMSO</text>
<text transform="translate(77.8 599.2) rotate(90)" font-size="7.5" text-anchor="start">10µM</text>
<text transform="translate(89.2 599.2) rotate(90)" font-size="7.5" text-anchor="start">BBM</text>
<clipPath id="c8"><rect x="49.3" y="624.6" width="54.1" height="11.7"/></clipPath>
<rect x="49.3" y="624.6" width="54.1" height="11.7" fill="#c6c6c6"/>
<g clip-path="url(#c8)">
<rect x="49" y="624.5" width="26" height="12" rx="2.5" fill="#a0a0a0" opacity="0.85" filter="url(#b2)"/>
<rect x="50" y="630.8" width="9" height="3.6" rx="1.8" fill="#555" opacity="0.6" filter="url(#b2)"/>
<rect x="58" y="631.5" width="10" height="2.6" rx="1.3" fill="#666" opacity="0.45" filter="url(#b2)"/>
<rect x="66" y="630.5" width="8" height="3.8" rx="1.9" fill="#4a4a4a" opacity="0.6" filter="url(#b2)"/>
<rect x="76" y="624.5" width="28" height="12" rx="2.5" fill="#c9c9c9" opacity="0.8" filter="url(#b2)"/>
</g>
<rect x="49.3" y="624.6" width="54.1" height="11.7" fill="none" stroke="#111" stroke-width="1.25"/>
<text transform="translate(46.2 633.46)" font-size="7.8" text-anchor="end">CAMK2G</text>
<clipPath id="c9"><rect x="49.3" y="641.9" width="54.1" height="11.7"/></clipPath>
<rect x="49.3" y="641.9" width="54.1" height="11.7" fill="#dadada"/>
<g clip-path="url(#c9)">
<ellipse cx="63.75" cy="647.9" rx="14.25" ry="3.7" fill="#040404" opacity="0.98" filter="url(#b0)"/>
<rect x="60" y="646.5" width="20" height="3" rx="1.5" fill="#060606" opacity="0.95" filter="url(#b0)"/>
<ellipse cx="90" cy="647.4" rx="13" ry="2.5" fill="#060606" opacity="0.98" filter="url(#b0)"/>
</g>
<rect x="49.3" y="641.9" width="54.1" height="11.7" fill="none" stroke="#111" stroke-width="1.25"/>
<text transform="translate(46.2 650.76)" font-size="7.8" text-anchor="end">b-actin</text>
<text transform="translate(122.6 550.8)" font-size="11.1" text-anchor="start" font-weight="bold" fill="#000" style="fill:#000;stroke:#000;stroke-width:0.32px">H</text>
<text transform="translate(170.1 558.97)" font-size="7.7" text-anchor="middle">BALB/c mouse</text>
<path d="M211.5 548.6L211.5 564.3L235.6 564.3Z" fill="none" stroke="#111" stroke-width="1.1" stroke-linejoin="miter"/>
<circle cx="227.1" cy="554.2" r="3.7" fill="none" stroke="#111" stroke-width="0.95"/>
<line x1="221.3" y1="568.8" x2="221.3" y2="573.2" stroke="#111" stroke-width="0.8"/>
<path d="M219.2 572.7L223.4 572.7L221.3 576.9Z" fill="#111"/>
<g transform="translate(218.2 585.3) rotate(-10)"><ellipse rx="3.2" ry="4.2" fill="#fff" stroke="#3a3a3a" stroke-width="0.55"/><ellipse rx="1.85" ry="2.9" fill="#2c4966"/></g>
<g transform="translate(222.7 584.4) rotate(6)"><ellipse rx="3.2" ry="4.2" fill="#fff" stroke="#3a3a3a" stroke-width="0.55"/><ellipse rx="1.85" ry="2.9" fill="#2c4966"/></g>
<g transform="translate(226.5 589.2) rotate(28)"><ellipse rx="3.2" ry="4.2" fill="#fff" stroke="#3a3a3a" stroke-width="0.55"/><ellipse rx="1.85" ry="2.9" fill="#2c4966"/></g>
<g transform="translate(224.8 595.8) rotate(-8)"><ellipse rx="3.2" ry="4.2" fill="#fff" stroke="#3a3a3a" stroke-width="0.55"/><ellipse rx="1.85" ry="2.9" fill="#2c4966"/></g>
<g transform="translate(219 597.9) rotate(8)"><ellipse rx="3.2" ry="4.2" fill="#fff" stroke="#3a3a3a" stroke-width="0.55"/><ellipse rx="1.85" ry="2.9" fill="#2c4966"/></g>
<g transform="translate(215.5 592) rotate(-6)"><ellipse rx="3.2" ry="4.2" fill="#fff" stroke="#3a3a3a" stroke-width="0.55"/><ellipse rx="1.85" ry="2.9" fill="#2c4966"/></g>
<text transform="translate(195.6 591.57)" font-size="7.7" text-anchor="end">c-kit+ cells</text>
<rect x="138.6" y="595.3" width="56.8" height="61.4" fill="none" stroke="#111" stroke-width="0.9"/>
<text transform="translate(166.8 605.97)" font-size="7.7" text-anchor="middle">Retroviral</text>
<text transform="translate(166.8 614.97)" font-size="7.7" text-anchor="middle">transduction</text>
<text transform="translate(166.8 623.57)" font-size="7.7" text-anchor="middle">MPL WT</text>
<text transform="translate(166.8 645.17)" font-size="7.7" text-anchor="middle">MPL W515L</text>
<text transform="translate(166.8 654.37)" font-size="7.7" text-anchor="middle">-ires-GFP</text>
<line x1="196" y1="607.3" x2="212.4" y2="607.3" stroke="#111" stroke-width="0.8" stroke-dasharray="2.6 1.8"/>
<path d="M212.4 605.2L212.4 609.4L216.6 607.3Z" fill="#111"/>
<line x1="221.4" y1="603.8" x2="221.4" y2="608.5" stroke="#111" stroke-width="0.8"/>
<path d="M219.3 608L223.5 608L221.4 612.2Z" fill="#111"/>
<text transform="translate(221.4 623.57)" font-size="7.7" text-anchor="middle">GFP(+)</text>
<text transform="translate(221.4 635.97)" font-size="7.7" text-anchor="middle">500 cells</text>
<line x1="221.4" y1="639" x2="221.4" y2="643.6" stroke="#111" stroke-width="0.8"/>
<path d="M219.3 643.1L223.5 643.1L221.4 647.3Z" fill="#111"/>
<text transform="translate(221.4 657.77)" font-size="7.7" text-anchor="middle">CFC assay</text>
<text transform="translate(221.4 668.57)" font-size="7.7" text-anchor="middle">DMSO or BBM</text>
<text transform="translate(257.8 547.8)" font-size="11.1" text-anchor="start" font-weight="bold" fill="#000" style="fill:#000;stroke:#000;stroke-width:0.32px">I</text>
<rect x="299.2" y="606.72" width="10.8" height="41.68" fill="#e48a9c" stroke="#dc7389" stroke-width="0.6"/>
<line x1="304.6" y1="601.28" x2="304.6" y2="610.01" stroke="#d01832" stroke-width="0.8"/>
<line x1="302.8" y1="601.28" x2="306.4" y2="601.28" stroke="#d01832" stroke-width="0.8"/>
<line x1="302.8" y1="610.01" x2="306.4" y2="610.01" stroke="#d01832" stroke-width="0.8"/>
<circle cx="304.6" cy="601.28" r="1.25" fill="#d01832"/>
<circle cx="304.6" cy="606.22" r="1.25" fill="#d01832"/>
<circle cx="304.6" cy="609.81" r="1.25" fill="#d01832"/>
<rect x="320.9" y="609.61" width="10.8" height="38.79" fill="#e48a9c" stroke="#dc7389" stroke-width="0.6"/>
<line x1="326.3" y1="604.02" x2="326.3" y2="612.3" stroke="#d01832" stroke-width="0.8"/>
<line x1="324.5" y1="604.02" x2="328.1" y2="604.02" stroke="#d01832" stroke-width="0.8"/>
<line x1="324.5" y1="612.3" x2="328.1" y2="612.3" stroke="#d01832" stroke-width="0.8"/>
<circle cx="326.3" cy="604.02" r="1.25" fill="#d01832"/>
<circle cx="326.3" cy="609.51" r="1.25" fill="#d01832"/>
<circle cx="326.3" cy="612" r="1.25" fill="#d01832"/>
<rect x="342.6" y="615.69" width="10.8" height="32.71" fill="#e48a9c" stroke="#dc7389" stroke-width="0.6"/>
<line x1="348" y1="607.91" x2="348" y2="620.48" stroke="#d01832" stroke-width="0.8"/>
<line x1="346.2" y1="607.91" x2="349.8" y2="607.91" stroke="#d01832" stroke-width="0.8"/>
<line x1="346.2" y1="620.48" x2="349.8" y2="620.48" stroke="#d01832" stroke-width="0.8"/>
<circle cx="348" cy="607.91" r="1.25" fill="#d01832"/>
<circle cx="348" cy="614.59" r="1.25" fill="#d01832"/>
<circle cx="348" cy="619.73" r="1.25" fill="#d01832"/>
<line x1="289.8" y1="573.11" x2="289.8" y2="648.9" stroke="#262626" stroke-width="1.25"/>
<line x1="289.3" y1="648.4" x2="359.4" y2="648.4" stroke="#262626" stroke-width="1.25"/>
<line x1="286.8" y1="648.4" x2="289.8" y2="648.4" stroke="#262626" stroke-width="1.25"/>
<text transform="translate(284 650.63)" font-size="7.3" text-anchor="end">0</text>
<line x1="286.8" y1="623.47" x2="289.8" y2="623.47" stroke="#262626" stroke-width="1.25"/>
<text transform="translate(284 625.7)" font-size="7.3" text-anchor="end">50</text>
<line x1="286.8" y1="598.54" x2="289.8" y2="598.54" stroke="#262626" stroke-width="1.25"/>
<text transform="translate(284 600.77)" font-size="7.3" text-anchor="end">100</text>
<line x1="286.8" y1="573.61" x2="289.8" y2="573.61" stroke="#262626" stroke-width="1.25"/>
<text transform="translate(284 575.84)" font-size="7.3" text-anchor="end">150</text>
<line x1="304.6" y1="648.4" x2="304.6" y2="651.4" stroke="#262626" stroke-width="1.25"/>
<text transform="translate(304.6 659.9)" font-size="7.5" text-anchor="middle">DMSO</text>
<line x1="326.3" y1="648.4" x2="326.3" y2="651.4" stroke="#262626" stroke-width="1.25"/>
<text transform="translate(326.3 659.9)" font-size="7.5" text-anchor="middle">BBM</text>
<text transform="translate(327.1 669.1)" font-size="7.5" text-anchor="middle">2µM</text>
<line x1="348" y1="648.4" x2="348" y2="651.4" stroke="#262626" stroke-width="1.25"/>
<text transform="translate(348 659.9)" font-size="7.5" text-anchor="middle">BBM</text>
<text transform="translate(348.8 669.1)" font-size="7.5" text-anchor="middle">8µM</text>
<text transform="translate(324.8 555.3)" font-size="7.5" text-anchor="middle">mice c-kit+ cells</text>
<text transform="translate(324.8 564.5)" font-size="7.5" text-anchor="middle">expressing MPLwt</text>
<text transform="translate(265.6 611) rotate(-90) scale(0.74 1)" font-size="8.6" text-anchor="middle" style="stroke-width:0.26px">Colony no. (500 GFP+ cells)</text>
<rect x="414.5" y="589.27" width="10.8" height="59.13" fill="#e48a9c" stroke="#dc7389" stroke-width="0.6"/>
<line x1="419.9" y1="577.3" x2="419.9" y2="597.54" stroke="#d01832" stroke-width="0.8"/>
<line x1="418.1" y1="577.3" x2="421.7" y2="577.3" stroke="#d01832" stroke-width="0.8"/>
<line x1="418.1" y1="597.54" x2="421.7" y2="597.54" stroke="#d01832" stroke-width="0.8"/>
<circle cx="419.9" cy="577.3" r="1.25" fill="#d01832"/>
<circle cx="417.2" cy="593.01" r="1.25" fill="#d01832"/>
<circle cx="422.7" cy="593.01" r="1.25" fill="#d01832"/>
<rect x="437.2" y="605.32" width="10.8" height="43.08" fill="#e48a9c" stroke="#dc7389" stroke-width="0.6"/>
<line x1="442.6" y1="596.2" x2="442.6" y2="611" stroke="#d01832" stroke-width="0.8"/>
<line x1="440.8" y1="596.2" x2="444.4" y2="596.2" stroke="#d01832" stroke-width="0.8"/>
<line x1="440.8" y1="611" x2="444.4" y2="611" stroke="#d01832" stroke-width="0.8"/>
<circle cx="442.6" cy="596.2" r="1.25" fill="#d01832"/>
<circle cx="442.6" cy="606.22" r="1.25" fill="#d01832"/>
<circle cx="442.6" cy="610.41" r="1.25" fill="#d01832"/>
<rect x="460.3" y="615.69" width="10.8" height="32.71" fill="#e48a9c" stroke="#dc7389" stroke-width="0.6"/>
<line x1="465.7" y1="606.22" x2="465.7" y2="621.48" stroke="#d01832" stroke-width="0.8"/>
<line x1="463.9" y1="606.22" x2="467.5" y2="606.22" stroke="#d01832" stroke-width="0.8"/>
<line x1="463.9" y1="621.48" x2="467.5" y2="621.48" stroke="#d01832" stroke-width="0.8"/>
<circle cx="465.7" cy="606.22" r="1.25" fill="#d01832"/>
<circle cx="462.8" cy="617.69" r="1.25" fill="#d01832"/>
<circle cx="468.5" cy="616.19" r="1.25" fill="#d01832"/>
<line x1="401.9" y1="573.11" x2="401.9" y2="648.9" stroke="#262626" stroke-width="1.25"/>
<line x1="401.4" y1="648.4" x2="476.6" y2="648.4" stroke="#262626" stroke-width="1.25"/>
<line x1="398.9" y1="648.4" x2="401.9" y2="648.4" stroke="#262626" stroke-width="1.25"/>
<text transform="translate(396.1 650.63)" font-size="7.3" text-anchor="end">0</text>
<line x1="398.9" y1="623.47" x2="401.9" y2="623.47" stroke="#262626" stroke-width="1.25"/>
<text transform="translate(396.1 625.7)" font-size="7.3" text-anchor="end">50</text>
<line x1="398.9" y1="598.54" x2="401.9" y2="598.54" stroke="#262626" stroke-width="1.25"/>
<text transform="translate(396.1 600.77)" font-size="7.3" text-anchor="end">100</text>
<line x1="398.9" y1="573.61" x2="401.9" y2="573.61" stroke="#262626" stroke-width="1.25"/>
<text transform="translate(396.1 575.84)" font-size="7.3" text-anchor="end">150</text>
<line x1="419.9" y1="648.4" x2="419.9" y2="651.4" stroke="#262626" stroke-width="1.25"/>
<text transform="translate(419.9 659.9)" font-size="7.5" text-anchor="middle">DMSO</text>
<line x1="442.6" y1="648.4" x2="442.6" y2="651.4" stroke="#262626" stroke-width="1.25"/>
<text transform="translate(442.6 659.9)" font-size="7.5" text-anchor="middle">BBM</text>
<text transform="translate(443.4 669.1)" font-size="7.5" text-anchor="middle">2µM</text>
<line x1="465.7" y1="648.4" x2="465.7" y2="651.4" stroke="#262626" stroke-width="1.25"/>
<text transform="translate(465.7 659.9)" font-size="7.5" text-anchor="middle">BBM</text>
<text transform="translate(466.5 669.1)" font-size="7.5" text-anchor="middle">8µM</text>
<text transform="translate(439.2 555.3)" font-size="7.5" text-anchor="middle">mice c-kit+ cells</text>
<text transform="translate(439.2 564.5)" font-size="7.5" text-anchor="middle">expressing MPLW515L</text>
<text transform="translate(377.4 611) rotate(-90) scale(0.74 1)" font-size="8.6" text-anchor="middle" style="stroke-width:0.26px">Colony no. (500 GFP+ cells)</text>
<line x1="425.4" y1="575.7" x2="463.6" y2="575.7" stroke="#111" stroke-width="1.15"/>
<text transform="translate(444.4 575.2)" font-size="5.6" text-anchor="middle" font-weight="bold" fill="#000">*</text>
<path d="M0 0H520V677H0Z M1.1 0.9V675.7H518.85V0.9Z" fill="#111" fill-rule="evenodd"/>
</svg></body></html>
